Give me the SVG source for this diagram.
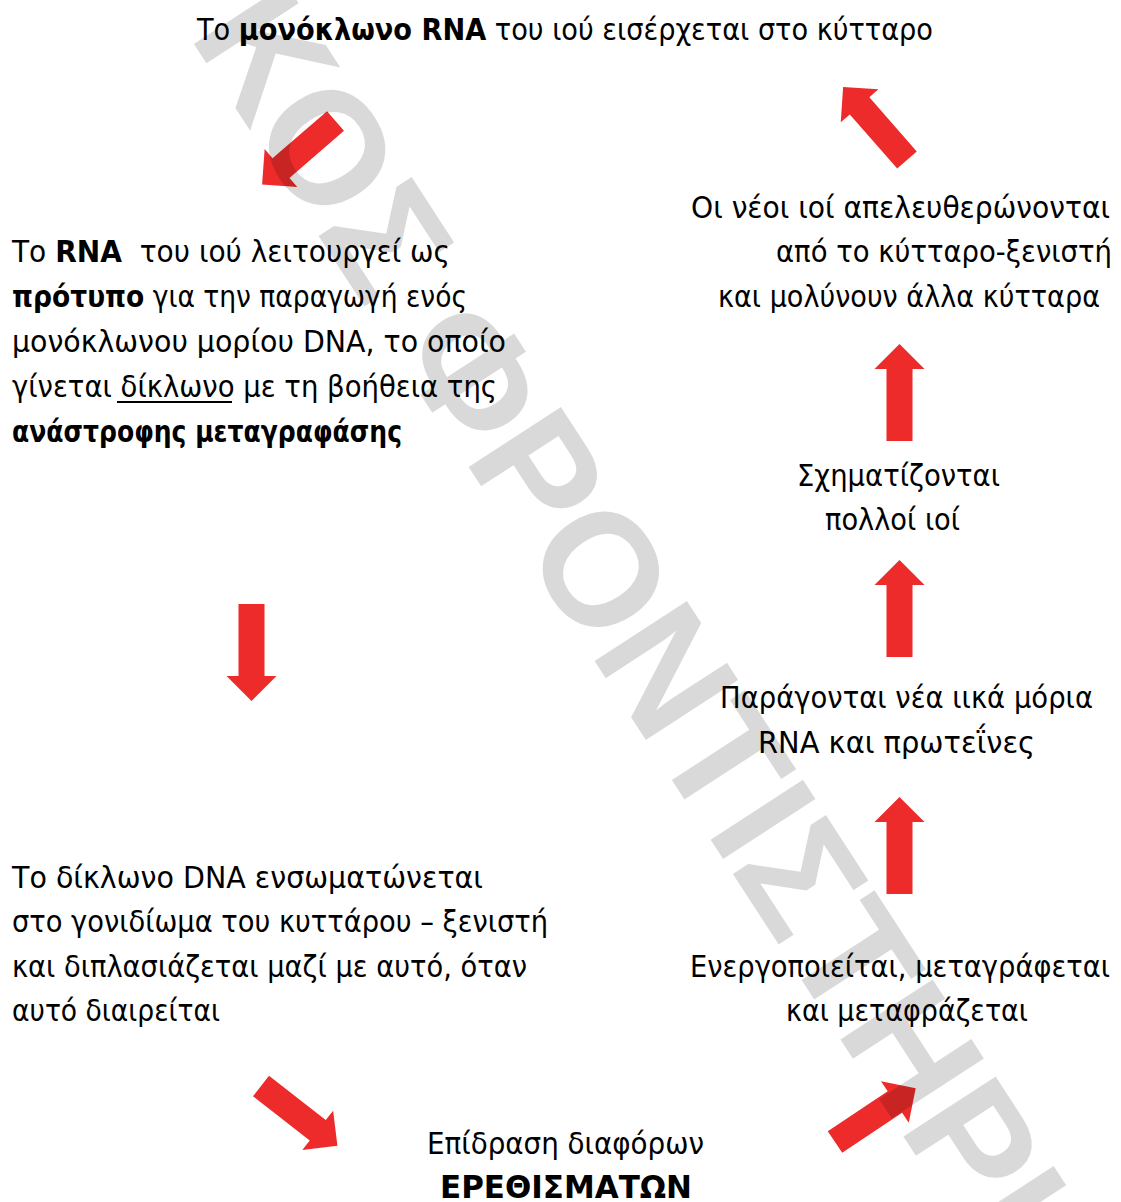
<svg xmlns="http://www.w3.org/2000/svg" xmlns:xlink="http://www.w3.org/1999/xlink" width="1121" height="1202" viewBox="0 0 1121 1202">
  <style>
    .t { font-family: 'DejaVu Sans', 'Noto Sans', sans-serif; font-size: 30px; fill: #000; }
    .b { font-weight: bold; }
    .cond { font-family: 'DejaVu Sans Condensed', 'DejaVu Sans', sans-serif; font-size: 31px; }
    .arrow { fill: #ed2b2b; }
    .mark { font-family: 'Liberation Sans', Arial, sans-serif; font-weight: bold; font-size: 160px; fill: #000; fill-opacity: 0.15; }
  </style>
  <defs>
    <!-- block arrow pointing along +x, tail centred on the origin -->
    <path id="blockArrow" d="M0,-13 L72,-13 L72,-25 L97,0 L72,25 L72,13 L0,13 Z"/>
  </defs>

  <rect width="1121" height="1202" fill="#fff"/>

  <g id="node-entry">
    <text class="t" x="197" y="40" textLength="736" lengthAdjust="spacingAndGlyphs">Το <tspan class="b">μονόκλωνο RNA</tspan> του ιού εισέρχεται στο κύτταρο</text>
  </g>

  <g id="node-reverse-transcription">
    <text class="t" x="12" y="262" textLength="438" lengthAdjust="spacingAndGlyphs" xml:space="preserve">Το <tspan class="b">RNA</tspan>  του ιού λειτουργεί ως</text>
    <text class="t" x="12" y="307" textLength="455" lengthAdjust="spacingAndGlyphs"><tspan class="b">πρότυπο</tspan> για την παραγωγή ενός</text>
    <text class="t" x="12" y="352" textLength="494" lengthAdjust="spacingAndGlyphs">μονόκλωνου μορίου DNA, το οποίο</text>
    <text class="t" x="12" y="397" textLength="485" lengthAdjust="spacingAndGlyphs">γίνεται δίκλωνο με τη βοήθεια της</text>
    <line x1="117" y1="402" x2="232" y2="402" stroke="#000" stroke-width="2.2"/>
    <text class="t b" x="12" y="442" textLength="390" lengthAdjust="spacingAndGlyphs">ανάστροφης μεταγραφάσης</text>
  </g>

  <g id="node-release">
    <text class="t" x="691" y="218" textLength="419" lengthAdjust="spacingAndGlyphs">Οι νέοι ιοί απελευθερώνονται</text>
    <text class="t" x="776" y="262" textLength="336" lengthAdjust="spacingAndGlyphs">από το κύτταρο-ξενιστή</text>
    <text class="t" x="718" y="307" textLength="382" lengthAdjust="spacingAndGlyphs">και μολύνουν άλλα κύτταρα</text>
  </g>

  <g id="node-assembly">
    <text class="t" x="797" y="486" textLength="203" lengthAdjust="spacingAndGlyphs">Σχηματίζονται</text>
    <text class="t" x="825" y="530" textLength="135" lengthAdjust="spacingAndGlyphs">πολλοί ιοί</text>
  </g>

  <g id="node-synthesis">
    <text class="t" x="720" y="708" textLength="373" lengthAdjust="spacingAndGlyphs">Παράγονται νέα ιικά μόρια</text>
    <text class="t" x="758" y="753" textLength="277" lengthAdjust="spacingAndGlyphs">RNA και πρωτεΐνες</text>
  </g>

  <g id="node-activation">
    <text class="t" x="690" y="977" textLength="420" lengthAdjust="spacingAndGlyphs">Ενεργοποιείται, μεταγράφεται</text>
    <text class="t" x="786" y="1021" textLength="242" lengthAdjust="spacingAndGlyphs">και μεταφράζεται</text>
  </g>

  <g id="node-integration">
    <text class="t" x="12" y="888" textLength="471" lengthAdjust="spacingAndGlyphs">Το δίκλωνο DNA ενσωματώνεται</text>
    <text class="t" x="12" y="932" textLength="536" lengthAdjust="spacingAndGlyphs">στο γονιδίωμα του κυττάρου – ξενιστή</text>
    <text class="t" x="12" y="977" textLength="515" lengthAdjust="spacingAndGlyphs">και διπλασιάζεται μαζί με αυτό, όταν</text>
    <text class="t" x="12" y="1021" textLength="208" lengthAdjust="spacingAndGlyphs">αυτό διαιρείται</text>
  </g>

  <g id="node-stimuli">
    <text class="t cond" x="427" y="1154" textLength="277" lengthAdjust="spacingAndGlyphs">Επίδραση διαφόρων</text>
    <text class="t cond b" x="440" y="1198" textLength="252" lengthAdjust="spacingAndGlyphs">ΕΡΕΘΙΣΜΑΤΩΝ</text>
  </g>

  <g id="connectors" class="arrow">
    <use xlink:href="#blockArrow" transform="translate(335.5,121) rotate(139.2)"/>
    <use xlink:href="#blockArrow" transform="translate(251.5,604) rotate(90)"/>
    <use xlink:href="#blockArrow" transform="translate(261,1086) rotate(38)"/>
    <use xlink:href="#blockArrow" transform="translate(835,1142) rotate(-33.7)"/>
    <use xlink:href="#blockArrow" transform="translate(899.5,894) rotate(-90)"/>
    <use xlink:href="#blockArrow" transform="translate(899.5,657) rotate(-90)"/>
    <use xlink:href="#blockArrow" transform="translate(899.5,441) rotate(-90)"/>
    <use xlink:href="#blockArrow" transform="translate(907,160) rotate(-131.2)"/>
  </g>

  <!-- translucent diagonal watermark laid over the whole sheet -->
  <text class="mark" transform="translate(188,35) rotate(57)">ΚΟΣ ΦΡΟΝΤΙΣΤΗΡΙ</text>
</svg>
